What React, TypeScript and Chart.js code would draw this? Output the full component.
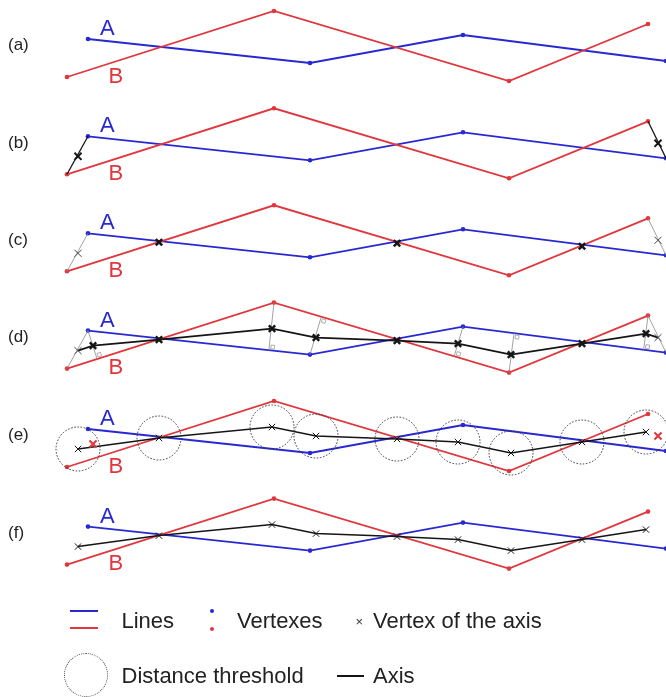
import React, { useEffect, useRef } from 'react';
import { Chart, registerables } from 'chart.js';

Chart.register(...registerables);

// ---- data ----
const PANEL_LABELS = ['(a)', '(b)', '(c)', '(d)', '(e)', '(f)'];
const PANEL_OFFSETS = [0, 97.3, 194.3, 291.6, 390, 487.6];
const LINE_A_X = [88, 310, 463, 666];
const LINE_A_Y = [39, 63, 35, 61];
const LINE_B_X = [67, 274, 509, 648];
const LINE_B_Y = [77, 11, 81, 24];
const AXIS_X = [78, 93, 159, 272, 316, 397, 458, 511, 582, 646, 658];
const AXIS_Y = [59, 54, 48, 37, 46, 49, 52, 63, 52, 42, 46];
const AXIS_KIND = ['end', 'vertex', 'cross', 'vertex', 'vertex', 'cross', 'vertex', 'vertex', 'cross', 'vertex', 'end'];
const AXIS_MERGED = [false, true, false, false, false, false, false, false, false, false, true];
const PERP_SOURCES: [string, number][] = [['A', 0], ['B', 1], ['A', 1], ['A', 2], ['B', 2], ['B', 3]];

const BLUE = '#2828d2';
const RED = '#e0363c';
const BLACK = '#151515';
const GRAY = '#8a8a8a';

type P = { x: number; y: number };

function nearestOnPolyline(px: number, py: number, xs: number[], ys: number[]) {
  let best = { x: xs[0], y: ys[0], d: Infinity, dx: 1, dy: 0 };
  for (let i = 0; i < xs.length - 1; i++) {
    const ax = xs[i], ay = ys[i], bx = xs[i + 1], by = ys[i + 1];
    const dx = bx - ax, dy = by - ay;
    let t = ((px - ax) * dx + (py - ay) * dy) / (dx * dx + dy * dy);
    t = Math.max(0, Math.min(1, t));
    const fx = ax + t * dx, fy = ay + t * dy;
    const d = Math.hypot(px - fx, py - fy);
    if (d < best.d) best = { x: fx, y: fy, d, dx, dy };
  }
  return best;
}

function buildDatasets() {
  const list: any[] = [];
  const line = (pts: P[], color: string, width: number, extra: any = {}) =>
    list.push({
      data: pts, showLine: true, borderColor: color, borderWidth: width, pointRadius: 0,
      fill: false, tension: 0, ...extra,
    });
  const marks = (pts: P[], color: string, style: string, radius: number, width: number, extra: any = {}) =>
    list.push({
      data: pts, showLine: false, pointStyle: style, pointRadius: radius,
      pointBorderColor: color, pointBackgroundColor: 'rgba(0,0,0,0)', pointBorderWidth: width, ...extra,
    });

  const aPts = (o: number) => LINE_A_X.map((x, i) => ({ x, y: LINE_A_Y[i] + o }));
  const bPts = (o: number) => LINE_B_X.map((x, i) => ({ x, y: LINE_B_Y[i] + o }));
  const axisPts = (o: number, idx: number[]) => idx.map((i) => ({ x: AXIS_X[i], y: AXIS_Y[i] + o }));
  const allIdx = AXIS_X.map((_, i) => i);
  const keptIdx = allIdx.filter((i) => !AXIS_MERGED[i]);
  const mergedIdx = allIdx.filter((i) => AXIS_MERGED[i]);
  const kindIdx = (k: string) => allIdx.filter((i) => AXIS_KIND[i] === k);
  const nA = LINE_A_X.length - 1, nB = LINE_B_X.length - 1;
  const endSeg = (o: number, color: string, width: number) => {
    line([{ x: LINE_B_X[0], y: LINE_B_Y[0] + o }, { x: LINE_A_X[0], y: LINE_A_Y[0] + o }], color, width);
    line([{ x: LINE_B_X[nB], y: LINE_B_Y[nB] + o }, { x: LINE_A_X[nA], y: LINE_A_Y[nA] + o }], color, width);
  };

  PANEL_OFFSETS.forEach((o, p) => {
    // the two lines with their vertexes
    line(aPts(o), BLUE, 1.8, { pointRadius: 2.3, pointBackgroundColor: BLUE, pointBorderWidth: 0 });
    line(bPts(o), RED, 1.8, { pointRadius: 2.3, pointBackgroundColor: RED, pointBorderWidth: 0 });

    if (p === 1) {
      endSeg(o, BLACK, 1.3);
      marks(axisPts(o, kindIdx('end')), BLACK, 'crossRot', 5, 2);
    }
    if (p === 2) {
      endSeg(o, GRAY, 0.8);
      marks(axisPts(o, kindIdx('end')), '#444', 'crossRot', 5, 1);
      marks(axisPts(o, kindIdx('cross')), BLACK, 'crossRot', 4.5, 2.5);
    }
    if (p === 3) {
      endSeg(o, GRAY, 0.8);
      const squares: P[] = [];
      const rots: number[] = [];
      PERP_SOURCES.forEach(([which, vi]) => {
        const sx = which === 'A' ? LINE_A_X[vi] : LINE_B_X[vi];
        const sy = which === 'A' ? LINE_A_Y[vi] : LINE_B_Y[vi];
        const f = which === 'A'
          ? nearestOnPolyline(sx, sy, LINE_B_X, LINE_B_Y)
          : nearestOnPolyline(sx, sy, LINE_A_X, LINE_A_Y);
        line([{ x: sx, y: sy + o }, { x: f.x, y: f.y + o }], GRAY, 0.8);
        const len = Math.hypot(sx - f.x, sy - f.y) || 1;
        const ux = (sx - f.x) / len, uy = (sy - f.y) / len;
        const ll = Math.hypot(f.dx, f.dy);
        squares.push({ x: f.x + ux * 3.5 + (f.dx / ll) * 3.5, y: f.y + uy * 3.5 + (f.dy / ll) * 3.5 + o });
        rots.push((Math.atan2(f.dy, f.dx) * 180) / Math.PI);
      });
      marks(squares, '#9a9a9a', 'rect', 2.6, 0.8, { pointRotation: rots });
      line(axisPts(o, allIdx), BLACK, 1.7);
      marks(axisPts(o, kindIdx('vertex')), BLACK, 'crossRot', 4.5, 2.4);
      marks(axisPts(o, kindIdx('cross')), BLACK, 'crossRot', 4.5, 2.4);
      marks(axisPts(o, kindIdx('end')), '#444', 'crossRot', 5, 1);
    }
    if (p === 4) {
      line(axisPts(o, keptIdx), BLACK, 1.5);
      marks(axisPts(o, keptIdx), BLACK, 'crossRot', 4.5, 1);
      marks(axisPts(o, mergedIdx), RED, 'crossRot', 5, 2);
      marks(axisPts(o, keptIdx), '#3a3a3a', 'circle', 22, 1, { dashPattern: [1.6, 1.6] });
    }
    if (p === 5) {
      line(axisPts(o, keptIdx), BLACK, 1.5);
      marks(axisPts(o, keptIdx), BLACK, 'crossRot', 4.5, 1);
    }
  });

  const n = list.length;
  return list.map((d, i) => ({ ...d, order: n - i }));
}

const dashPlugin = {
  id: 'dashPoints',
  beforeDatasetDraw(chart: any, args: any) {
    const ds = chart.data.datasets[args.index];
    if (ds && ds.dashPattern) {
      chart.ctx.save();
      chart.ctx.setLineDash(ds.dashPattern);
    }
  },
  afterDatasetDraw(chart: any, args: any) {
    const ds = chart.data.datasets[args.index];
    if (ds && ds.dashPattern) chart.ctx.restore();
  },
};

const FONT = '"Liberation Sans", Arial, Helvetica, sans-serif';

export default function App() {
  const ref = useRef<HTMLCanvasElement | null>(null);

  useEffect(() => {
    if (!ref.current) return;
    const chart = new Chart(ref.current, {
      type: 'scatter',
      data: { datasets: buildDatasets() },
      options: {
        animation: false,
        responsive: false,
        events: [],
        layout: { padding: 0, autoPadding: false },
        plugins: { legend: { display: false }, tooltip: { enabled: false }, title: { display: false } },
        scales: {
          x: { type: 'linear', min: 0, max: 666, display: false },
          y: { type: 'linear', min: 0, max: 697, reverse: true, display: false },
        },
      },
      plugins: [dashPlugin],
    } as any);
    return () => chart.destroy();
  }, []);

  const txt = (content: string, left: number, top: number, size: number, color: string, key: string) => (
    <div
      key={key}
      style={{
        position: 'absolute', left, top, fontFamily: FONT, fontSize: size, lineHeight: `${size}px`,
        color, whiteSpace: 'nowrap',
      }}
    >
      {content}
    </div>
  );

  return (
    <div style={{ position: 'absolute', left: 0, top: 0, width: 666, height: 697, background: '#fff', overflow: 'hidden' }}>
      <canvas ref={ref} width={666} height={697} style={{ position: 'absolute', left: 0, top: 0 }} />
      {PANEL_LABELS.map((l, i) => txt(l, 8, PANEL_OFFSETS[i] + 36.2, 17, '#222', 'p' + i))}
      {PANEL_OFFSETS.map((o, i) => txt('A', 100, o + 17, 22, BLUE, 'a' + i))}
      {PANEL_OFFSETS.map((o, i) => txt('B', 108.5, o + 64.8, 22, RED, 'b' + i))}

      {/* legend */}
      <div style={{ position: 'absolute', left: 70, top: 610, width: 28, height: 2, background: BLUE }} />
      <div style={{ position: 'absolute', left: 70, top: 627, width: 28, height: 2, background: RED }} />
      {txt('Lines', 121.5, 610.3, 22, '#222', 'l1')}
      <div style={{ position: 'absolute', left: 210, top: 609, width: 4, height: 4, borderRadius: 2, background: BLUE }} />
      <div style={{ position: 'absolute', left: 210, top: 627, width: 4, height: 4, borderRadius: 2, background: RED }} />
      {txt('Vertexes', 237, 610.3, 22, '#222', 'l2')}
      {txt('×', 355.5, 615, 13, '#333', 'l3')}
      {txt('Vertex of the axis', 373, 610.3, 22, '#222', 'l4')}
      <div
        style={{
          position: 'absolute', left: 64, top: 653, width: 42, height: 42, borderRadius: '50%',
          border: '1px dotted #444',
        }}
      />
      {txt('Distance threshold', 121.5, 665.3, 22, '#222', 'l5')}
      <div style={{ position: 'absolute', left: 337, top: 675, width: 27, height: 2, background: BLACK }} />
      {txt('Axis', 373, 665.3, 22, '#222', 'l6')}
    </div>
  );
}
